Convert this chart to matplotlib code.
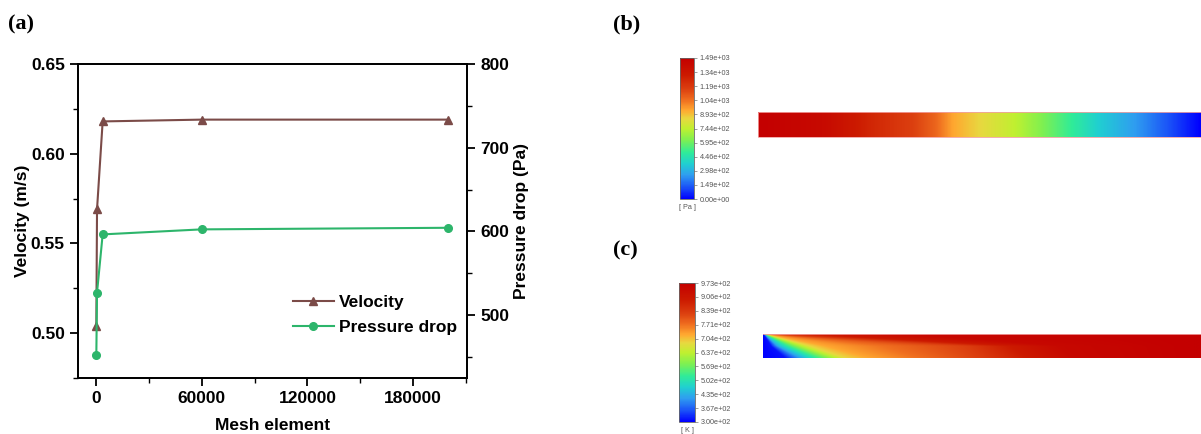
import numpy as np
import matplotlib
matplotlib.use('Agg')
import matplotlib.pyplot as plt
from matplotlib.colors import LinearSegmentedColormap, Normalize
from matplotlib.cm import ScalarMappable
from matplotlib.lines import Line2D
from matplotlib.patches import Rectangle
from matplotlib.ticker import MultipleLocator

# ---------------- (a) mesh independence data ----------------
mesh_elements = [200, 600, 3800, 60000, 200000]
velocity = [0.504, 0.569, 0.618, 0.619, 0.619]          # m/s
pressure_drop = [452, 527, 596.5, 602.5, 604.4]          # Pa
x_ticks = [0, 60000, 120000, 180000]
vel_ticks = [0.50, 0.55, 0.60, 0.65]
pd_ticks = [500, 600, 700, 800]

# ---------------- (b) pressure contour ----------------
p_min, p_max = 0.0, 1488.0
p_tick_labels = ['0.00e+00', '1.49e+02', '2.98e+02', '4.46e+02', '5.95e+02',
                 '7.44e+02', '8.93e+02', '1.04e+03', '1.19e+03', '1.34e+03', '1.49e+03']
# pressure read along the channel (fraction of length from inlet)
p_station_frac = [0.0, 0.15, 0.25, 0.35, 0.40, 0.44, 0.50, 0.58, 0.68, 0.77, 0.87, 1.0]
p_station_val = [1488, 1415, 1265, 1160, 1070, 940, 850, 745, 550, 370, 225, 0]

# ---------------- (c) temperature contour ----------------
t_min, t_max = 300.0, 973.0
t_tick_labels = ['3.00e+02', '3.67e+02', '4.35e+02', '5.02e+02', '5.69e+02',
                 '6.37e+02', '7.04e+02', '7.71e+02', '8.39e+02', '9.06e+02', '9.73e+02']
# isotherm levels (K) and where each one is reached along three rows of the channel
t_levels = [300, 313, 435, 536, 603, 684, 724, 771, 825, 892, 946, 973]
t_row_depth = [0.0, 0.5, 1.0]                 # 0 = heated top wall, 1 = bottom wall
t_pos_top = [0.000, 0.001, 0.002, 0.003, 0.004, 0.005, 0.006, 0.007, 0.008, 0.09, 0.34, 1.0]
t_pos_mid = [0.000, 0.018, 0.034, 0.059, 0.078, 0.107, 0.142, 0.274, 0.461, 0.564, 0.678, 1.0]
t_pos_bot = [0.000, 0.050, 0.089, 0.126, 0.153, 0.187, 0.240, 0.354, 0.491, 0.603, 0.708, 1.0]

# ANSYS-like rainbow colour map
cmap_pos = [0.00, 0.08, 0.17, 0.25, 0.33, 0.42, 0.50, 0.57, 0.63, 0.70, 0.78, 0.88, 1.00]
cmap_col = ['#0000ff', '#1a50f8', '#2f9ef0', '#20d0d0', '#30ec98', '#80f050', '#c0f030',
            '#e8d840', '#ffa830', '#f07020', '#dc4010', '#cc1a00', '#c40000']
cmap = LinearSegmentedColormap.from_list('ansys', list(zip(cmap_pos, cmap_col)))

W, H = 1201, 434
fig = plt.figure(figsize=(W / 100, H / 100), dpi=100)
plt.rcParams['font.family'] = ['Liberation Sans', 'DejaVu Sans']

def fx(px):
    return px / W

def fy(py):
    return 1 - py / H

# ---------------- panel (a) ----------------
brown = '#7b4b48'
green = '#2db56b'
ax = fig.add_axes([fx(78), fy(378), fx(467) - fx(78), fy(64) - fy(378)])
ax2 = ax.twinx()
ax.plot(mesh_elements, velocity, color=brown, lw=1.5, marker='^', ms=6, zorder=2)
ax2.plot(mesh_elements, pressure_drop, color=green, lw=1.5, marker='o', ms=5.5, zorder=3)
ax.set_xlim(-10200, 210600)
ax.set_ylim(0.475, 0.65)
ax2.set_ylim(425, 800)
ax.set_xticks(x_ticks)
ax.set_yticks(vel_ticks)
ax2.set_yticks(pd_ticks)
ax.set_xticklabels([str(v) for v in x_ticks])
ax.set_yticklabels([f'{v:.2f}' for v in vel_ticks])
ax2.set_yticklabels([str(v) for v in pd_ticks])
ax.xaxis.set_minor_locator(MultipleLocator(30000))
ax.yaxis.set_minor_locator(MultipleLocator(0.025))
ax2.yaxis.set_minor_locator(MultipleLocator(50))
for a in (ax, ax2):
    for sp in a.spines.values():
        sp.set_linewidth(1.3)
    a.tick_params(which='major', length=6, width=1.3, labelsize=12.5, direction='out')
    a.tick_params(which='minor', length=3.5, width=1.0, direction='out')
    for lab in a.get_xticklabels() + a.get_yticklabels():
        lab.set_fontweight('bold')
ax.set_xlabel('Mesh element', fontsize=12.5, fontweight='bold')
ax.set_ylabel('Velocity (m/s)', fontsize=12.5, fontweight='bold')
ax2.set_ylabel('Pressure drop (Pa)', fontsize=12.5, fontweight='bold')
ax.xaxis.set_label_coords(0.5, -0.127)
ax.yaxis.set_label_coords((30 - 78) / 389, 0.5)
ax2.yaxis.set_label_coords((514 - 78) / 389, 0.5)

handles = [Line2D([], [], color=brown, lw=1.5, marker='^', ms=6),
           Line2D([], [], color=green, lw=1.5, marker='o', ms=5.5)]
fig.legend(handles, ['Velocity', 'Pressure drop'], loc='center left',
           bbox_to_anchor=(fx(293), fy(315)), frameon=False, borderpad=0,
           borderaxespad=0, handlelength=2.35, handletextpad=0.3, labelspacing=0.55,
           prop={'size': 12.5, 'weight': 'bold'})

# panel labels
for lab, px, py in [('(a)', 8, 24), ('(b)', 613, 24), ('(c)', 613, 250)]:
    fig.text(fx(px), fy(py), lab, fontfamily='Liberation Serif', fontweight='bold',
             fontsize=16, va='center', ha='left')

# ---------------- overlay for contour pictures ----------------
ov = fig.add_axes([0, 0, 1, 1])
ov.set_axis_off()

nx = 700
xs = np.linspace(0, 1, nx)

# pressure field along the channel
bx0, bx1, by0, by1 = 758, 1201, 112, 137
p_row = np.interp(xs, p_station_frac, p_station_val)
p_field = np.tile(p_row, (20, 1))
ov.imshow(p_field, cmap=cmap, norm=Normalize(p_min, p_max), aspect='auto',
          extent=(bx0, bx1, by1, by0), interpolation='bilinear')
ov.add_patch(Rectangle((bx0, by0), bx1 - bx0, by1 - by0, fill=False,
                       ec='#f2a0a0', lw=0.6))

# temperature field: isotherm positions interpolated between the read rows
cx0, cx1, cy0, cy1 = 763, 1201, 334, 358
ny = 80
pos_table = np.array([t_pos_top, t_pos_mid, t_pos_bot])
t_field = np.empty((ny, nx))
for j, d in enumerate(np.linspace(0, 1, ny)):
    pos_d = np.array([np.interp(d, t_row_depth, pos_table[:, k])
                      for k in range(len(t_levels))])
    t_field[j] = np.interp(xs, pos_d, t_levels)
ov.imshow(t_field, cmap=cmap, norm=Normalize(t_min, t_max), aspect='auto',
          extent=(cx0, cx1, cy1, cy0), interpolation='bilinear')
ov.plot([cx0, cx1], [cy0, cy0], color='#f2a0a0', lw=0.6)

ov.set_xlim(0, W)
ov.set_ylim(H, 0)

# colour bars
def colorbar(x0, x1, y0, y1, vmin, vmax, labels, unit, unit_xy):
    cax = fig.add_axes([fx(x0), fy(y1), fx(x1) - fx(x0), fy(y0) - fy(y1)])
    cb = fig.colorbar(ScalarMappable(Normalize(vmin, vmax), cmap), cax=cax,
                      ticks=np.linspace(vmin, vmax, len(labels)))
    cb.ax.set_yticklabels(labels)
    cb.outline.set_linewidth(0.6)
    cb.outline.set_edgecolor('#666666')
    cb.ax.tick_params(length=2, width=0.5, color='#777777', labelsize=5.2,
                      labelcolor='#555555', pad=2)
    fig.text(fx(unit_xy[0]), fy(unit_xy[1]), unit, fontsize=5.2, color='#555555',
             ha='center', va='center')

colorbar(680, 694, 58, 199, p_min, p_max, p_tick_labels, '[ Pa ]', (687, 208))
colorbar(679, 695, 283, 422, t_min, t_max, t_tick_labels, '[ K ]', (687, 430))

fig.savefig('out.png', dpi=100)
